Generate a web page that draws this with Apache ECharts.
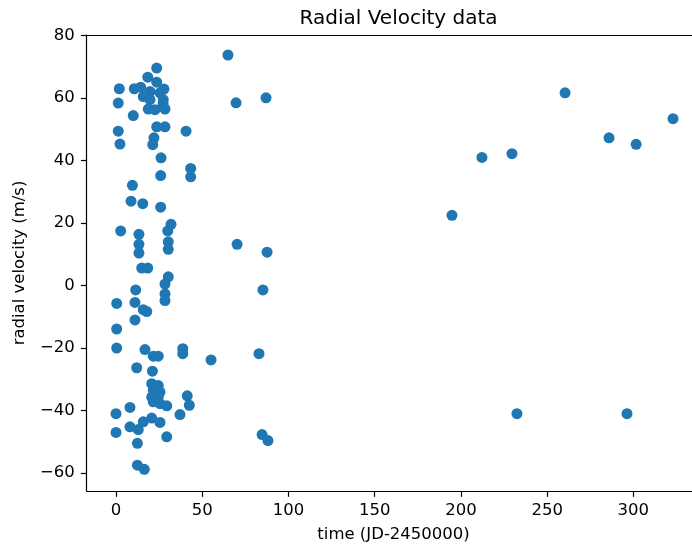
<!DOCTYPE html>
<html>
<head>
<meta charset="utf-8">
<script src="https://cdn.jsdelivr.net/npm/echarts@6/dist/echarts.min.js"></script>
<style>
  html, body { margin: 0; padding: 0; background: #fff; }
  #chart { width: 692px; height: 548px; }
</style>
</head>
<body>
<div id="chart"></div>
<script>
// Observation times (JD - 2450000) and measured radial velocities (m/s)
const times = [
  23.6, 18.4, 23.6, 1.9, 10.6, 14.3, 27.8, 19.7, 25.5, 15.8,
  19.7, 27.4, 27.3, 1.3, 18.7, 22.6, 28.4, 10.0, 1.3, 23.6,
  28.4, 40.6, 22.0, 2.3, 21.3, 26.1, 43.3, 43.3, 25.9, 9.5,
  8.7, 15.5, 25.9, 31.9, 2.7, 30.0, 13.3, 30.3, 13.3, 30.3,
  13.3, 14.9, 18.4, 30.3,
  28.4, 11.4, 28.4, 28.4, 0.4, 11.0, 15.8, 17.8, 11.0, 0.4,
  0.4, 16.8, 21.6, 24.5, 38.7, 38.7, 12.0, 21.1, 20.7, 24.5,
  21.6, 25.5, 20.7, 24.5, 21.6, 25.5, 29.4, 41.3, 42.5, 8.1,
  37.1, 0.0, 15.8, 20.7, 25.5, 8.1, 12.9, 0.0, 29.4, 12.4,
  12.4, 16.4,
  64.9, 69.6, 87.0, 70.2, 87.6, 85.2, 55.1, 82.9, 84.7, 88.1,
  194.8, 212.2, 229.6, 232.5, 260.4, 285.9, 296.3, 301.6, 323.0
];
const velocities = [
  69.6, 66.7, 65.1, 63.0, 63.0, 63.5, 62.9, 62.1, 61.7, 60.5,
  59.5, 59.5, 58.2, 58.4, 56.5, 56.3, 56.5, 54.4, 49.4, 50.8,
  50.8, 49.4, 47.3, 45.3, 45.1, 40.9, 37.5, 34.8, 35.2, 32.1,
  27.0, 26.2, 25.1, 19.6, 17.5, 17.5, 16.4, 14.0, 13.2, 11.6,
  10.4, 5.6, 5.6, 2.8,
  0.5, -1.4, -2.7, -4.8, -5.7, -5.4, -7.7, -8.3, -11.0, -13.9,
  -20.0, -20.5, -22.6, -22.6, -20.2, -21.8, -26.3, -27.4, -31.4, -32.0,
  -33.5, -34.1, -35.7, -35.7, -37.2, -37.8, -38.5, -35.3, -38.3, -39.0,
  -41.3, -41.0, -43.6, -42.4, -43.8, -45.2, -46.1, -47.0, -48.4, -50.5,
  -57.5, -58.8,
  73.8, 58.5, 60.1, 13.2, 10.7, -1.4, -23.8, -21.8, -47.7, -49.6,
  22.5, 41.0, 42.2, -41.0, 61.7, 47.3, -41.0, 45.2, 53.4
];
const xTicks = [0, 50, 100, 150, 200, 250, 300];
const yTicks = [-60, -40, -20, 0, 20, 40, 60, 80];

const points = times.map((t, i) => [t, velocities[i]]);
const FONT = '"DejaVu Sans", sans-serif';
const minus = v => String(v).replace('-', '\u2212');
const INK = '#000';
const LABEL_SIZE = 16.5;

const chart = echarts.init(document.getElementById('chart'), null, { renderer: 'canvas' });
chart.setOption({
  animation: false,
  backgroundColor: '#ffffff',
  title: {
    text: 'Radial Velocity data',
    left: 393.6,
    top: 4,
    textAlign: 'center',
    textStyle: { fontFamily: FONT, fontSize: 20, fontWeight: 'normal', color: INK }
  },
  grid: {
    left: 86.7,
    top: 35,
    right: 0,
    bottom: 55.3,
    show: false
  },
  xAxis: [{
    type: 'value',
    position: 'bottom',
    min: -17,
    max: 334,
    name: 'time (JD-2450000)',
    nameLocation: 'middle',
    nameGap: 35,
    nameTextStyle: { fontFamily: FONT, fontSize: LABEL_SIZE, color: INK, padding: [0, 0, 0, 8.4] },
    axisLine: { show: true, onZero: false, lineStyle: { color: INK, width: 1.2 } },
    splitLine: { show: false },
    axisTick: {
      show: true, inside: false, length: 5.8, customValues: xTicks,
      lineStyle: { color: INK, width: 1.2 }
    },
    axisLabel: {
      customValues: xTicks, margin: 11,
      fontFamily: FONT, fontSize: LABEL_SIZE, color: INK,
      formatter: minus
    }
  }, {
    // top spine of the frame
    type: 'value',
    position: 'top',
    min: -17,
    max: 334,
    axisLine: { show: true, onZero: false, lineStyle: { color: INK, width: 1.2 } },
    axisTick: { show: false },
    axisLabel: { show: false },
    splitLine: { show: false }
  }],
  yAxis: {
    type: 'value',
    position: 'left',
    min: -65.75,
    max: 80.2,
    name: 'radial velocity (m/s)',
    nameLocation: 'middle',
    nameGap: 58,
    nameTextStyle: { fontFamily: FONT, fontSize: LABEL_SIZE, color: INK },
    axisLine: { show: true, onZero: false, lineStyle: { color: INK, width: 1.2 } },
    splitLine: { show: false },
    axisTick: {
      show: true, inside: false, length: 5.8, customValues: yTicks,
      lineStyle: { color: INK, width: 1.2 }
    },
    axisLabel: {
      customValues: yTicks, margin: 12,
      fontFamily: FONT, fontSize: LABEL_SIZE, color: INK,
      formatter: minus
    }
  },
  series: [{
    type: 'scatter',
    xAxisIndex: 0,
    data: points,
    symbol: 'circle',
    symbolSize: 11,
    itemStyle: { color: '#1f77b4', opacity: 1 }
  }]
});
</script>
</body>
</html>
